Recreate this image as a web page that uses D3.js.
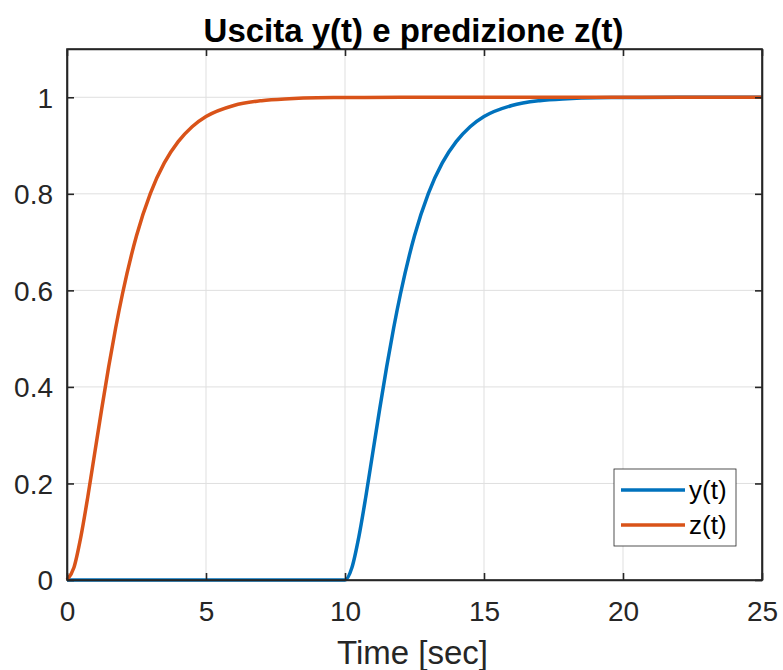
<!DOCTYPE html>
<html><head><meta charset="utf-8">
<script src="https://cdn.jsdelivr.net/npm/d3@7"></script>
<style>body{margin:0;background:#fff}svg{display:block}text{font-family:Arial,"Liberation Sans",Helvetica,sans-serif}</style>
</head><body>
<svg id="c" width="783" height="670"></svg>
<script>
// time samples (s)
const zTime = [0,0.25,0.5,0.75,1,1.25,1.5,1.75,2,2.5,3,3.5,4,4.5,5,6,7,8,9,10,12,15,20,25];
// predicted output z(t)
const zValues = [0,0.026,0.090,0.173,0.264,0.355,0.442,0.522,0.594,0.713,0.801,0.864,0.908,0.939,0.960,0.983,0.993,0.997,0.999,0.9995,1,1,1,1];
// actual output y(t)
const yTime = [0,5,10,10.25,10.5,10.75,11,11.25,11.5,11.75,12,12.5,13,13.5,14,14.5,15,16,17,18,19,20,22,25];
const yValues = [0,0,0,0.026,0.090,0.173,0.264,0.355,0.442,0.522,0.594,0.713,0.801,0.864,0.908,0.939,0.960,0.983,0.993,0.997,0.999,0.9995,1,1];
const xTicks = [0,5,10,15,20,25];
const yTicks = [0,0.2,0.4,0.6,0.8,1];
const seriesNames = ["y(t)","z(t)"];
const colors = ["#0072BD","#D95319"];

const svg = d3.select("#c");
const L=67,R=762,T=49,B=580;
const x = d3.scaleLinear().domain([0,25]).range([L,R]);
const y = d3.scaleLinear().domain([0,1.1]).range([B,T]);

// grid
const g = svg.append("g");
g.selectAll(".gx").data(xTicks).enter().append("line")
 .attr("x1",d=>x(d)).attr("x2",d=>x(d)).attr("y1",T).attr("y2",B)
 .attr("stroke","#dfdfdf").attr("stroke-width",1);
g.selectAll(".gy").data(yTicks).enter().append("line")
 .attr("y1",d=>y(d)).attr("y2",d=>y(d)).attr("x1",L).attr("x2",R)
 .attr("stroke","#dfdfdf").attr("stroke-width",1);

// lines
const line = d3.line().x(d=>x(d[0])).y(d=>y(d[1])).curve(d3.curveMonotoneX);
const ySeries = yTime.map((t,i)=>[t,yValues[i]]);
const zSeries = zTime.map((t,i)=>[t,zValues[i]]);
svg.append("path").datum(ySeries).attr("d",line).attr("fill","none").attr("stroke",colors[0]).attr("stroke-width",3.5);
svg.append("path").datum(zSeries).attr("d",line).attr("fill","none").attr("stroke",colors[1]).attr("stroke-width",3.5);

// axes
const ac="#262626";
const axB = d3.axisBottom(x).tickValues(xTicks).tickSizeInner(-7).tickSizeOuter(0).tickPadding(21).tickFormat(d3.format("d"));
const axL = d3.axisLeft(y).tickValues(yTicks).tickSizeInner(-7).tickSizeOuter(0).tickPadding(14).tickFormat(d=>d===0||d===1?d3.format("d")(d):d3.format(".1f")(d));
const gb = svg.append("g").attr("transform",`translate(0,${B})`).call(axB);
const gl = svg.append("g").attr("transform",`translate(${L},0)`).call(axL);
const gt = svg.append("g").attr("transform",`translate(0,${T})`).call(d3.axisTop(x).tickValues(xTicks).tickSizeInner(-7).tickSizeOuter(0).tickFormat(""));
const gr = svg.append("g").attr("transform",`translate(${R},0)`).call(d3.axisRight(y).tickValues(yTicks).tickSizeInner(-7).tickSizeOuter(0).tickFormat(""));
[gb,gl,gt,gr].forEach(a=>{
  a.select(".domain").attr("stroke",ac).attr("stroke-width",1.6);
  a.selectAll(".tick line").attr("stroke",ac).attr("stroke-width",1.6);
  a.selectAll(".tick text").attr("fill",ac).attr("font-size",28).attr("font-family","Arial,'Liberation Sans',sans-serif");
});
gb.selectAll(".tick text").attr("dy","0.71em");
gl.selectAll(".tick text").attr("dy","0.35em");
// full box
svg.append("rect").attr("x",L).attr("y",T).attr("width",R-L).attr("height",B-T).attr("fill","none").attr("stroke",ac).attr("stroke-width",1.6);

// labels
svg.append("text").attr("x",(L+R)/2-2).attr("y",664).attr("text-anchor","middle").attr("font-size",33).attr("fill",ac).text("Time [sec]");
svg.append("text").attr("x",(L+R)/2-1).attr("y",42).attr("text-anchor","middle").attr("font-size",33).attr("font-weight","bold")
 .attr("fill","#000").text("Uscita y(t) e predizione z(t)");

// legend
const lg = svg.append("g");
lg.append("rect").attr("x",614).attr("y",469).attr("width",122).attr("height",77).attr("fill","#fff").attr("stroke","#262626").attr("stroke-width",0.8);
seriesNames.forEach((n,i)=>{
  const yy = 490 + i*35;
  lg.append("line").attr("x1",621).attr("x2",685).attr("y1",yy).attr("y2",yy).attr("stroke",colors[i]).attr("stroke-width",3.5);
  lg.append("text").attr("x",689).attr("y",yy).attr("dy","0.35em").attr("font-size",26).attr("fill","#000").text(n);
});
</script>
</body></html>
